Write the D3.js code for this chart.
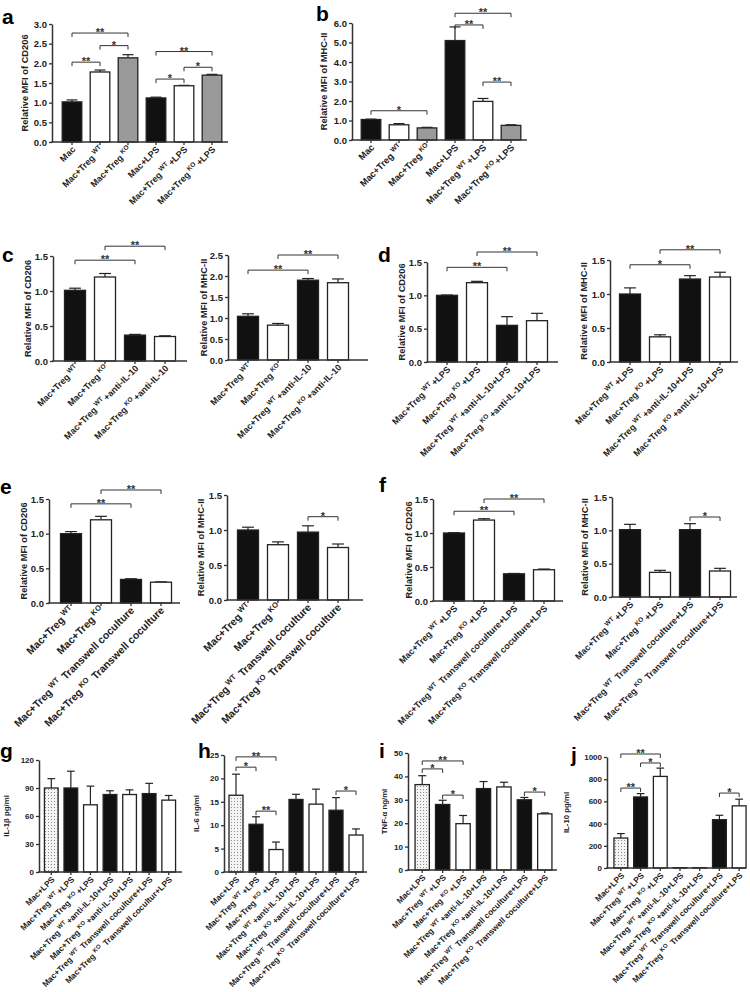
<!DOCTYPE html>
<html>
<head>
<meta charset="utf-8">
<script src="https://cdn.jsdelivr.net/npm/d3@7"></script>
<style>
body { margin: 0; background: #fff; }
svg { display: block; }
text { font-family: "Liberation Sans", Arial, sans-serif; }
</style>
</head>
<body>
<svg id="canvas" width="750" height="992"></svg>
<script>
// ---- data ----
const catsA = ["Mac", "Mac+Treg{WT}", "Mac+Treg{KO}", "Mac+LPS", "Mac+Treg{WT}+LPS", "Mac+Treg{KO}+LPS"];
const meanA = [1.02, 1.78, 2.14, 1.12, 1.43, 1.70];
const semA = [0.05, 0.05, 0.08, 0.02, 0.01, 0.02];
const sigA = [[0, 1, "**", 2.03], [1, 2, "*", 2.45], [0, 2, "**", 2.77], [3, 4, "*", 1.6], [4, 5, "*", 1.9], [3, 5, "**", 2.3]];

const meanB = [1.05, 0.78, 0.62, 5.1, 1.98, 0.75];
const semB = [0.02, 0.06, 0.03, 0.7, 0.15, 0.03];
const sigB = [[0, 2, "*", 1.5], [3, 4, "**", 5.9], [3, 5, "**", 6.5], [4, 5, "**", 2.97]];

const catsC = ["Mac+Treg{WT}", "Mac+Treg{KO}", "Mac+Treg{WT}+anti-IL-10", "Mac+Treg{KO}+anti-IL-10"];
const meanC1 = [1.01, 1.20, 0.37, 0.35];
const semC1 = [0.03, 0.05, 0.01, 0.01];
const sigC1 = [[0, 2, "**", 1.44], [1, 3, "**", 1.64]];
const meanC2 = [1.04, 0.83, 1.90, 1.84];
const semC2 = [0.06, 0.04, 0.04, 0.09];
const sigC2 = [[0, 2, "**", 2.14], [1, 3, "**", 2.5]];

const catsD = ["Mac+Treg{WT}+LPS", "Mac+Treg{KO}+LPS", "Mac+Treg{WT}+anti-IL-10+LPS", "Mac+Treg{KO}+anti-IL-10+LPS"];
const meanD1 = [1.00, 1.19, 0.55, 0.62];
const semD1 = [0.005, 0.02, 0.13, 0.11];
const sigD1 = [[0, 2, "**", 1.42], [1, 3, "**", 1.65]];
const meanD2 = [1.00, 0.37, 1.22, 1.25];
const semD2 = [0.09, 0.03, 0.05, 0.07];
const sigD2 = [[0, 2, "*", 1.43], [1, 3, "**", 1.65]];

const catsE = ["Mac+Treg{WT}", "Mac+Treg{KO}", "Mac+Treg{WT} Transwell coculture", "Mac+Treg{KO} Transwell coculture"];
const meanE1 = [1.00, 1.20, 0.34, 0.30];
const semE1 = [0.03, 0.05, 0.01, 0.005];
const sigE1 = [[0, 2, "**", 1.43], [1, 3, "**", 1.63]];
const meanE2 = [1.00, 0.79, 0.97, 0.75];
const semE2 = [0.04, 0.04, 0.09, 0.05];
const sigE2 = [[2, 3, "*", 1.19]];

const catsF = ["Mac+Treg{WT}+LPS", "Mac+Treg{KO}+LPS", "Mac+Treg{WT} Transwell coculture+LPS", "Mac+Treg{KO} Transwell coculture+LPS"];
const meanF1 = [1.00, 1.19, 0.40, 0.46];
const semF1 = [0.005, 0.02, 0.005, 0.01];
const sigF1 = [[0, 2, "**", 1.32], [1, 3, "**", 1.5]];
const meanF2 = [1.01, 0.37, 1.01, 0.39];
const semF2 = [0.08, 0.03, 0.09, 0.04];
const sigF2 = [[2, 3, "*", 1.2]];

const catsG = ["Mac+LPS", "Mac+Treg{WT}+LPS", "Mac+Treg{KO}+LPS", "Mac+Treg{WT}+anti-IL-10+LPS", "Mac+Treg{KO}+anti-IL-10+LPS", "Mac+Treg{WT} Transwell coculture+LPS", "Mac+Treg{KO} Transwell cocultur+LPS"];
const catsHIJ = ["Mac+LPS", "Mac+Treg{WT}+LPS", "Mac+Treg{KO}+LPS", "Mac+Treg{WT}+anti-IL-10+LPS", "Mac+Treg{KO}+anti-IL-10+LPS", "Mac+Treg{WT} Transwell coculture+LPS", "Mac+Treg{KO} Transwell coculture+LPS"];
const meanG = [90, 90, 72, 83, 83, 84, 77];
const semG = [10, 18, 20, 4, 5, 11, 5];
const meanH = [16.4, 10.2, 4.8, 15.5, 14.5, 13.2, 7.9];
const semH = [4.5, 1.6, 1.6, 1.1, 3.2, 2.7, 1.3];
const sigH = [[0, 1, "*", 22.4], [0, 2, "**", 24.6], [1, 2, "**", 13], [5, 6, "*", 17.3]];
const meanI = [36.5, 28, 19.8, 34.8, 35.5, 30, 24];
const semI = [3.8, 1.8, 3.5, 3, 2, 1, 0.4];
const sigI = [[0, 1, "*", 43.2], [0, 2, "**", 46.6], [1, 2, "*", 32], [5, 6, "*", 33.3]];
const meanJ = [270, 640, 825, 3, 3, 435, 560];
const semJ = [40, 30, 75, 0, 0, 40, 60];
const sigJ = [[0, 1, "**", 720], [1, 2, "*", 946], [0, 2, "**", 1027], [5, 6, "*", 675]];

// ---- drawing ----
const svg = d3.select("#canvas");
const defs = svg.append("defs");
const pat = defs.append("pattern").attr("id", "dots")
    .attr("width", 3).attr("height", 3).attr("patternUnits", "userSpaceOnUse");
pat.append("rect").attr("width", 3).attr("height", 3).attr("fill", "#f4f4f4");
pat.append("rect").attr("width", 1).attr("height", 1).attr("fill", "#8a8a8a");

const fillMap = { k: "#111", w: "#fff", g: "#9a9a9a", d: "url(#dots)" };

const panels = [
    { cats: catsA, mean: meanA, sem: semA, sig: sigA, fills: "kwgkwg", ax: 52, band: [58, 226], end: 228, top: 24, bot: 142, max: 3, step: 0.5, fmt: ".1f", title: "Relative MFI of CD206", tx: 28, fs: 9 },
    { cats: catsA, mean: meanB, sem: semB, sig: sigB, fills: "kwgkwg", ax: 352, band: [357, 525], end: 527, top: 23, bot: 140, max: 6, step: 1, fmt: ".1f", title: "Relative MFI of MHC-II", tx: 327, fs: 9.3 },
    { cats: catsC, mean: meanC1, sem: semC1, sig: sigC1, fills: "kwkw", ax: 53, band: [60, 180], end: 187, top: 256, bot: 361, max: 1.5, step: 0.5, fmt: ".1f", title: "Relative MFI of CD206", tx: 31, fs: 9 },
    { cats: catsC, mean: meanC2, sem: semC2, sig: sigC2, fills: "kwkw", ax: 228, band: [233, 353], end: 368, top: 255, bot: 360, max: 2.5, step: 0.5, fmt: ".1f", title: "Relative MFI of MHC-II", tx: 207, fs: 9 },
    { cats: catsD, mean: meanD1, sem: semD1, sig: sigD1, fills: "kwkw", ax: 427, band: [432, 552], end: 558, top: 262, bot: 362, max: 1.5, step: 0.5, fmt: ".1f", title: "Relative MFI of CD206", tx: 405, fs: 9 },
    { cats: catsD, mean: meanD2, sem: semD2, sig: sigD2, fills: "kwkw", ax: 610, band: [615, 735], end: 738, top: 260, bot: 362, max: 1.5, step: 0.5, fmt: ".1f", title: "Relative MFI of MHC-II", tx: 587, fs: 9 },
    { cats: catsE, mean: meanE1, sem: semE1, sig: sigE1, fills: "kwkw", ax: 49, band: [56, 176], end: 180, top: 499, bot: 603, max: 1.5, step: 0.5, fmt: ".1f", title: "Relative MFI of CD206", tx: 27, fs: 10.5 },
    { cats: catsE, mean: meanE2, sem: semE2, sig: sigE2, fills: "kwkw", ax: 227, band: [233, 353], end: 363, top: 495, bot: 600, max: 1.5, step: 0.5, fmt: ".1f", title: "Relative MFI of MHC-II", tx: 204, fs: 10.5 },
    { cats: catsF, mean: meanF1, sem: semF1, sig: sigF1, fills: "kwkw", ax: 433, band: [439, 559], end: 563, top: 499, bot: 601, max: 1.5, step: 0.5, fmt: ".1f", title: "Relative MFI of CD206", tx: 412, fs: 9 },
    { cats: catsF, mean: meanF2, sem: semF2, sig: sigF2, fills: "kwkw", ax: 612, band: [615, 735], end: 737, top: 497, bot: 597, max: 1.5, step: 0.5, fmt: ".1f", title: "Relative MFI of MHC-II", tx: 588, fs: 9 },
    { cats: catsG, mean: meanG, sem: semG, sig: [], fills: "dkwkwkw", ax: 39, band: [41.5, 178.5], end: 182, top: 760, bot: 872, max: 120, step: 30, fmt: "d", title: "IL-1\u03b2 pg/ml", tx: 9, fs: 8.3 },
    { cats: catsHIJ, mean: meanH, sem: semH, sig: sigH, fills: "dkwkwkw", ax: 224, band: [226, 366], end: 367, top: 755, bot: 872, max: 25, step: 5, fmt: "d", title: "IL-6 ng/ml", tx: 199, fs: 8.3 },
    { cats: catsHIJ, mean: meanI, sem: semI, sig: sigI, fills: "dkwkwkw", ax: 408, band: [412, 555], end: 557, top: 753, bot: 870, max: 50, step: 10, fmt: "d", title: "TNF-\u03b1 ng/ml", tx: 387, fs: 8.3 },
    { cats: catsHIJ, mean: meanJ, sem: semJ, sig: sigJ, fills: "dkwkwkw", ax: 607, band: [611, 749], end: 746, top: 757, bot: 868, max: 1000, step: 200, fmt: "d", title: "IL-10 pg/ml", tx: 569, fs: 8.3 }
];

const letters = [["a", 2, 24], ["b", 316, 21], ["c", 2, 262], ["d", 378, 262], ["e", 0, 494], ["f", 379, 492], ["g", 0, 758], ["h", 198, 758], ["i", 379, 758], ["j", 571, 762]];

function addLabel(sel, str, size) {
    const parts = str.split(/(\{[A-Z]+\})/).filter(s => s.length);
    let raised = false;
    parts.forEach(p => {
        if (p.startsWith("{")) {
            sel.append("tspan").attr("font-size", size * 0.72).attr("dx", 2).attr("dy", -size * 0.42).text(p.slice(1, -1));
            raised = true;
        } else {
            const t = sel.append("tspan").text(p);
            if (raised) { t.attr("dy", size * 0.42).attr("dx", 1.5); raised = false; }
        }
    });
}

panels.forEach(p => {
    const n = p.cats.length;
    const x = d3.scaleBand().domain(d3.range(n)).range(p.band).paddingInner(0.3).paddingOuter(0.15);
    const y = d3.scaleLinear().domain([0, p.max]).range([p.bot, p.top]);
    const bw = x.bandwidth();
    const cx = i => x(i) + bw / 2;
    const small = p.fs < 9;
    const g = svg.append("g");

    // error bars (upward only)
    const eb = g.append("g").attr("stroke", "#222").attr("stroke-width", 1.2);
    p.mean.forEach((m, i) => {
        if (!p.sem[i]) return;
        eb.append("line").attr("x1", cx(i)).attr("x2", cx(i)).attr("y1", y(m)).attr("y2", y(m + p.sem[i]));
        eb.append("line").attr("x1", cx(i) - bw * 0.28).attr("x2", cx(i) + bw * 0.28)
            .attr("y1", y(m + p.sem[i])).attr("y2", y(m + p.sem[i]));
    });

    // bars
    g.selectAll("rect.bar").data(p.mean).join("rect")
        .attr("class", "bar")
        .attr("x", (d, i) => x(i))
        .attr("y", d => y(d))
        .attr("width", bw)
        .attr("height", d => p.bot - y(d))
        .attr("fill", (d, i) => fillMap[p.fills[i]])
        .attr("stroke", "#222")
        .attr("stroke-width", 1.3);

    // y axis
    const yAxis = d3.axisLeft(y)
        .tickValues(d3.range(0, p.max + p.step / 2, p.step))
        .tickFormat(d3.format(p.fmt))
        .tickSize(3).tickSizeOuter(0).tickPadding(2);
    const ya = g.append("g").attr("transform", `translate(${p.ax},0)`).call(yAxis);
    ya.select(".domain").attr("stroke", "#333").attr("stroke-width", 1.5);
    ya.selectAll(".tick line").attr("stroke", "#333").attr("stroke-width", 1.3);
    ya.selectAll(".tick text").attr("font-size", small ? 8 : 9.5).attr("font-weight", "bold").attr("fill", "#222");

    // x axis
    const xAxis = d3.axisBottom(x).tickFormat("").tickSize(3).tickSizeOuter(0);
    const xa = g.append("g").attr("transform", `translate(0,${p.bot})`).call(xAxis);
    xa.select(".domain").remove();
    xa.selectAll(".tick line").attr("stroke", "#333").attr("stroke-width", 1.3);
    g.append("line").attr("x1", p.ax - 0.75).attr("x2", p.end).attr("y1", p.bot).attr("y2", p.bot)
        .attr("stroke", "#333").attr("stroke-width", 1.5);

    // category labels
    p.cats.forEach((c, i) => {
        const t = g.append("text")
            .attr("transform", `translate(${cx(i) + 4},${p.bot + 8}) rotate(-45)`)
            .attr("text-anchor", "end")
            .attr("font-size", p.fs)
            .attr("font-weight", "bold")
            .attr("fill", "#222");
        addLabel(t, c, p.fs);
    });

    // y title
    g.append("text")
        .attr("transform", `translate(${p.tx},${(p.top + p.bot) / 2}) rotate(-90)`)
        .attr("text-anchor", "middle")
        .attr("font-size", small ? 7.8 : 9.3)
        .attr("font-weight", "bold")
        .attr("fill", "#222")
        .text(p.title);

    // significance brackets
    p.sig.forEach(([a, b, lab, v]) => {
        const yy = y(v);
        g.append("path")
            .attr("d", `M${cx(a)},${yy + 4}V${yy}H${cx(b)}V${yy + 4}`)
            .attr("fill", "none").attr("stroke", "#333").attr("stroke-width", 1);
        g.append("text")
            .attr("x", (cx(a) + cx(b)) / 2).attr("y", yy + 3)
            .attr("text-anchor", "middle")
            .attr("font-size", 11).attr("font-weight", "bold").attr("fill", "#333")
            .text(lab);
    });
});

letters.forEach(([l, lx, ly]) => {
    svg.append("text").attr("x", lx).attr("y", ly)
        .attr("font-size", 21).attr("font-weight", "bold").attr("fill", "#000")
        .text(l);
});
</script>
</body>
</html>
